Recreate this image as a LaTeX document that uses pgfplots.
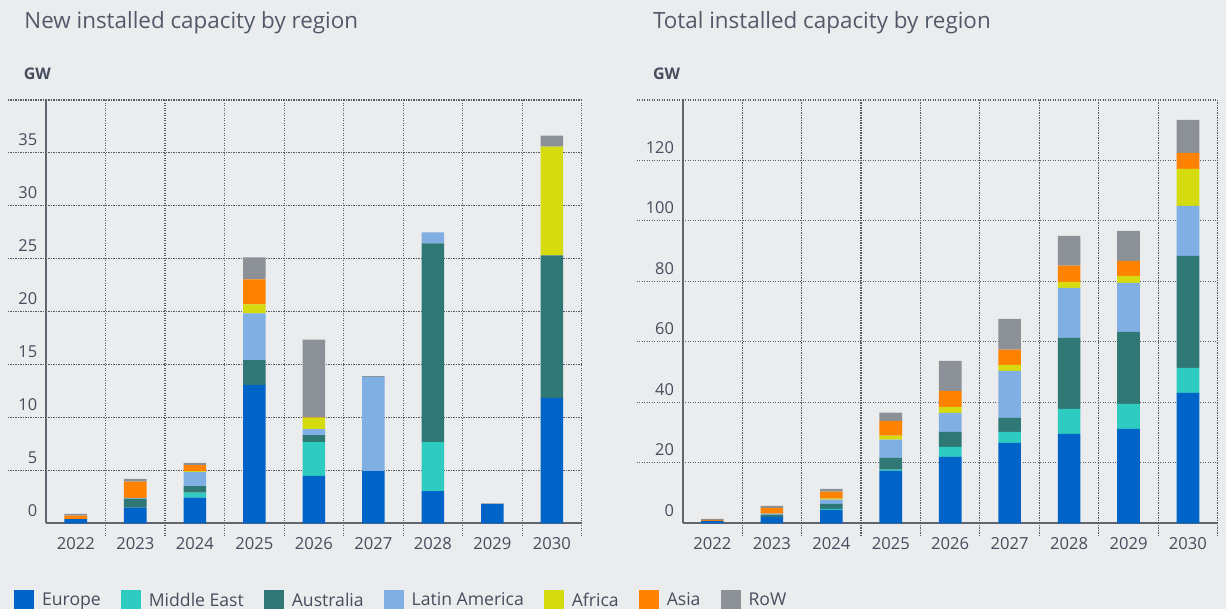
\documentclass[border=0pt]{standalone}
\usepackage{pgfplots}
\pgfplotsset{compat=1.18}
\usepackage{pgfplotstable}
\usepackage{fontspec}
\setmainfont{Open Sans}
\definecolor{bg}{HTML}{EBECEE}
\definecolor{txt}{HTML}{464D5D}
\definecolor{ttl}{HTML}{525A69}
\definecolor{gridc}{HTML}{545B66}
\definecolor{axc}{HTML}{5F6670}
\definecolor{cEU}{HTML}{0063C8}
\definecolor{cME}{HTML}{2ECBC0}
\definecolor{cAU}{HTML}{2F7876}
\definecolor{cLA}{HTML}{80B0E3}
\definecolor{cAF}{HTML}{D6DB10}
\definecolor{cAS}{HTML}{FF8200}
\definecolor{cRW}{HTML}{8C9097}

\pgfplotstableread{
x E ME AU LA AF AS RW
0 0.40 0 0 0 0 0.32 0.16
1 1.48 0 0.85 0.07 0 1.54 0.25
2 2.42 0.47 0.63 1.35 0.06 0.57 0.22
3 13.08 0 2.33 4.43 0.85 2.36 2.08
4 4.47 3.21 0.66 0.57 1.07 0.05 7.33
5 4.94 0 0 8.90 0 0 0.07
6 3.05 4.62 18.77 1.04 0 0 0
7 1.82 0 0 0 0 0 0.06
8 11.86 0 13.46 0 10.28 0 1.04
}\newcap

\pgfplotstableread{
x E ME AU LA AF AS RW
0 0.77 0 0 0 0 0.33 0.33
1 2.10 0 0.66 0.44 0 1.87 0.66
2 4.41 0.33 1.65 1.43 0.33 2.32 0.88
3 17.31 0.44 3.86 6.06 1.32 4.85 2.76
4 21.94 3.31 4.96 6.28 1.98 5.29 9.92
5 26.57 3.64 4.63 15.55 1.98 5.07 10.14
6 29.55 8.27 23.48 16.54 1.98 5.40 9.81
7 31.20 8.27 23.81 16.21 2.32 4.96 9.92
8 43.11 8.27 37.05 16.54 12.24 5.29 10.92
}\totcap

\tikzset{gridsty/.style={draw=gridc, line width=0.55pt, dash pattern=on 0.55pt off 0.7pt}}

\pgfplotsset{
  base/.style={
    scale only axis, width=267.85pt, height=211.65pt,
    xmin=-0.5, xmax=8.5, ymin=0,
    ybar stacked, bar width=11.3pt,
    axis lines*=left,
    axis line style={draw=axc, line width=1pt},
    xtick={0,...,8},
    xticklabels={2022,2023,2024,2025,2026,2027,2028,2029,2030},
    major tick length=0pt,
    ymajorgrids,
    major grid style={gridsty},
    xticklabel style={font=\fontsize{8.3}{10}\selectfont, text=txt, anchor=base, inner sep=0pt, yshift=-13pt},
    yticklabel style={font=\fontsize{8.2}{10}\selectfont, text=txt, anchor=base east, inner sep=0pt, xshift=-4.2pt, yshift=3.5pt},
    clip=false,
  }
}

\begin{document}
\begin{tikzpicture}
\fill[bg] (0,0) rectangle (613pt,304.5pt);

\node[anchor=base west, inner sep=0pt, text=ttl, font=\fontsize{11.2}{13}\selectfont] at (12pt,290.35pt) {New installed capacity by region};
\node[anchor=base west, inner sep=0pt, text=ttl, font=\fontsize{11.2}{13}\selectfont] at (326.35pt,290.35pt) {Total installed capacity by region};
\node[anchor=base west, inner sep=0pt, text=txt, font=\fontsize{8}{10}\selectfont\bfseries] at (11.7pt,264.5pt) {GW};
\node[anchor=base west, inner sep=0pt, text=txt, font=\fontsize{8}{10}\selectfont\bfseries] at (326.35pt,264.5pt) {GW};

\begin{axis}[base, at={(23pt,42.85pt)}, anchor=south west,
  ymax=40, ytick={0,5,...,40},
  yticklabels={0,5,10,15,20,25,30,35,{}},
  legend columns=-1,
  legend image code/.code={\fill[#1] (0pt,-4.5pt) rectangle (10pt,5.5pt);},
  legend style={at={(axis description cs:-0.0595,-0.1576)}, anchor=north west,
    draw=none, fill=none, inner sep=0pt, outer sep=0pt,
    font=\fontsize{8.8}{10}\selectfont, text=txt,
    nodes={inner sep=0pt},
    /tikz/every odd column/.append style={column sep=4pt},
    /tikz/every even column/.append style={column sep=10pt}},
  legend cell align=left,
]
\addplot[fill=cEU, draw=none] table[x=x,y=E]{\newcap};
\addplot[fill=cME, draw=none] table[x=x,y=ME]{\newcap};
\addplot[fill=cAU, draw=none] table[x=x,y=AU]{\newcap};
\addplot[fill=cLA, draw=none] table[x=x,y=LA]{\newcap};
\addplot[fill=cAF, draw=none] table[x=x,y=AF]{\newcap};
\addplot[fill=cAS, draw=none] table[x=x,y=AS]{\newcap};
\addplot[fill=cRW, draw=none] table[x=x,y=RW]{\newcap};
\legend{Europe,Middle East,Australia,Latin America,Africa,Asia,RoW}
\pgfplotsinvokeforeach{5,10,...,40}{\draw[gridsty] ([xshift=-19pt]axis cs:-0.5,#1) -- (axis cs:-0.5,#1);}
\pgfplotsinvokeforeach{0.5,1.5,...,8.5}{\draw[gridsty] (axis cs:#1,40) -- ([yshift=-7pt]axis cs:#1,0);}
\end{axis}

\begin{axis}[base, at={(341.35pt,42.85pt)}, anchor=south west, width=267.5pt,
  ymax=140, ytick={0,20,...,140},
  yticklabels={0,20,40,60,80,100,120,{}},
]
\addplot[fill=cEU, draw=none] table[x=x,y=E]{\totcap};
\addplot[fill=cME, draw=none] table[x=x,y=ME]{\totcap};
\addplot[fill=cAU, draw=none] table[x=x,y=AU]{\totcap};
\addplot[fill=cLA, draw=none] table[x=x,y=LA]{\totcap};
\addplot[fill=cAF, draw=none] table[x=x,y=AF]{\totcap};
\addplot[fill=cAS, draw=none] table[x=x,y=AS]{\totcap};
\addplot[fill=cRW, draw=none] table[x=x,y=RW]{\totcap};
\pgfplotsinvokeforeach{20,40,...,140}{\draw[gridsty] ([xshift=-23pt]axis cs:-0.5,#1) -- (axis cs:-0.5,#1);}
\pgfplotsinvokeforeach{0.5,1.5,...,8.5}{\draw[gridsty] (axis cs:#1,140) -- ([yshift=-7pt]axis cs:#1,0);}
\end{axis}

\pgfresetboundingbox
\path (0,0) rectangle (613pt,304.5pt);
\end{tikzpicture}
\end{document}
